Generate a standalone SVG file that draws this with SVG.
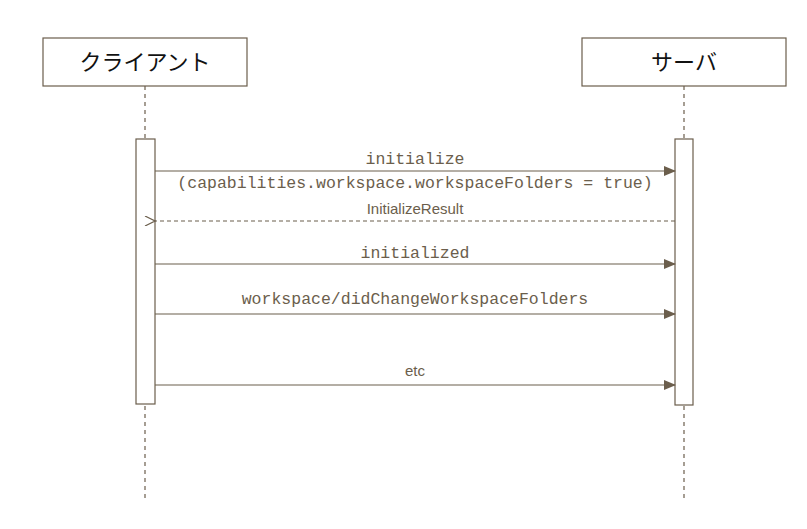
<svg xmlns="http://www.w3.org/2000/svg" width="807" height="529" viewBox="0 0 807 529">
<style>
.box{fill:#fff;stroke:#6b5e4c;stroke-width:1.2}
.life{stroke:#6b5e4c;stroke-width:1.2;stroke-dasharray:4,4}
.msg{stroke:#6b5e4c;stroke-width:1.2;fill:none}
.mono{font-family:"Liberation Mono",monospace;font-size:16.5px;fill:#6b5e4c;text-anchor:middle}
.sans{font-family:"Liberation Sans",Arial,sans-serif;font-size:15px;fill:#6b5e4c;text-anchor:middle}
.title{font-family:"Liberation Sans","Noto Sans CJK JP",sans-serif;font-size:22px;fill:#111;text-anchor:middle}
</style>
<defs>
<marker id="ah" markerWidth="12" markerHeight="10" refX="11" refY="5" orient="auto" markerUnits="userSpaceOnUse"><path d="M0,0 L12,5 L0,10 Z" fill="#6b5e4c"/></marker>
<marker id="oh" markerWidth="12" markerHeight="10" refX="1" refY="5" orient="auto" markerUnits="userSpaceOnUse"><path d="M11,0 L1,5 L11,10" fill="none" stroke="#6b5e4c" stroke-width="1.2"/></marker>
</defs>
<g id="lifelines">
<line class="life" x1="145" y1="86" x2="145" y2="500"/>
<line class="life" x1="684" y1="86" x2="684" y2="500"/>
</g>
<g id="client"><rect class="box" x="43" y="38" width="204" height="48"/><text class="title" x="145" y="70">クライアント</text></g>
<g id="server"><rect class="box" x="582" y="38" width="204" height="48"/><text class="title" x="684" y="70">サーバ</text></g>
<g id="client-activation"><rect class="box" x="136" y="139" width="19" height="265"/></g>
<g id="server-activation"><rect class="box" x="675" y="139" width="18" height="266"/></g>
<g id="connectors">
<line class="msg" x1="155" y1="171" x2="675" y2="171" marker-end="url(#ah)"/>
<text class="mono" x="415" y="164">initialize</text>
<text class="mono" x="415" y="188">(capabilities.workspace.workspaceFolders = true)</text>
<line class="msg" x1="675" y1="221" x2="155" y2="221" stroke-dasharray="4,3" marker-end="url(#oh)"/>
<text class="sans" x="415" y="214">InitializeResult</text>
<line class="msg" x1="155" y1="264" x2="675" y2="264" marker-end="url(#ah)"/>
<text class="mono" x="415" y="258">initialized</text>
<line class="msg" x1="155" y1="314" x2="675" y2="314" marker-end="url(#ah)"/>
<text class="mono" x="415" y="304">workspace/didChangeWorkspaceFolders</text>
<line class="msg" x1="155" y1="385" x2="675" y2="385" marker-end="url(#ah)"/>
<text class="sans" x="415" y="376">etc</text>
</g>
</svg>
